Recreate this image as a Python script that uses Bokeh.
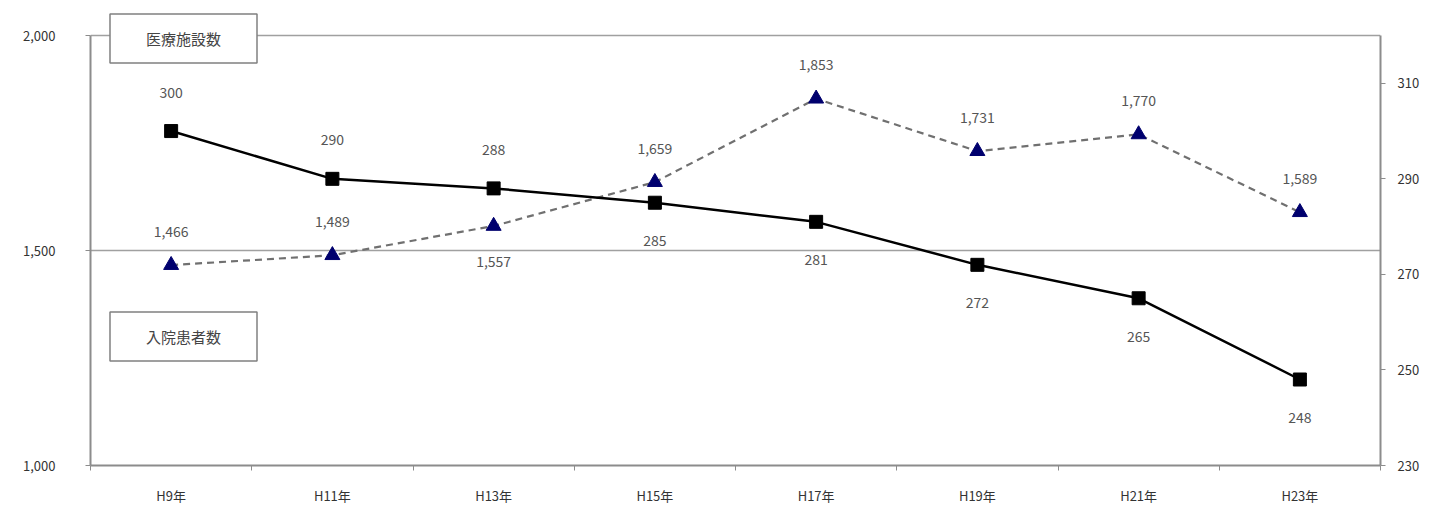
from bokeh.plotting import figure
from bokeh.models import Range1d, LinearAxis, FixedTicker, ColumnDataSource, Label
from bokeh.core.properties import value
from bokeh.embed import file_html
from bokeh.resources import INLINE

categories = ["H9年", "H11年", "H13年", "H15年", "H17年", "H19年", "H21年", "H23年"]
facilities = [300, 290, 288, 285, 281, 272, 265, 248]
patients = [1466, 1489, 1557, 1659, 1853, 1731, 1770, 1589]
facility_labels = ["300", "290", "288", "285", "281", "272", "265", "248"]
patient_labels = ["1,466", "1,489", "1,557", "1,659", "1,853", "1,731", "1,770", "1,589"]
left_ticks = [1000, 1500, 2000]
left_tick_labels = ["1,000", "1,500", "2,000"]
right_ticks = [230, 250, 270, 290, 310]
box_top_text = "医療施設数"
box_bottom_text = "入院患者数"

# label placement (above = True)
facility_above = [True, True, True, False, False, False, False, False]
patient_above = [True, True, False, True, True, True, True, True]

FONT = "Noto Sans CJK JP"
AXIS_COLOR = "#8c8c8c"

n = len(categories)
xs = [i + 0.5 for i in range(n)]

# axis extents: left 1000-2000, right 230-320 over 430 px; frame extended 25 px above
L_MIN, L_MAX = 1000, 2000
R_MIN, R_MAX = 230, 320
PLOT_H = 430
EXTRA = 25
l_top = L_MAX + EXTRA * (L_MAX - L_MIN) / PLOT_H
r_top = R_MAX + EXTRA * (R_MAX - R_MIN) / PLOT_H

p = figure(frame_width=1290, frame_height=PLOT_H + EXTRA, x_range=Range1d(0, n),
           y_range=Range1d(L_MIN, l_top),
           output_backend="svg", toolbar_location=None,
           min_border_left=90, min_border_right=10, min_border_top=10, min_border_bottom=10)
p.extra_y_ranges = {"right": Range1d(R_MIN, r_top)}
p.outline_line_color = None
p.background_fill_color = "white"
p.border_fill_color = "white"

# grid
p.xgrid.visible = False
p.ygrid.ticker = FixedTicker(ticks=[1500, 2000])
p.ygrid.grid_line_color = "#a0a0a0"
p.ygrid.grid_line_width = 1.5

# left axis
ya = p.yaxis[0]
ya.ticker = FixedTicker(ticks=left_ticks)
ya.bounds = (L_MIN, L_MAX)
ya.major_label_overrides = {t: l for t, l in zip(left_ticks, left_tick_labels)}
ya.minor_tick_line_color = None
ya.major_tick_in = 0
ya.major_tick_out = 5
ya.major_label_standoff = 30
ya.axis_line_color = AXIS_COLOR
ya.axis_line_width = 2
ya.major_tick_line_color = AXIS_COLOR

# right axis
ra = LinearAxis(y_range_name="right", ticker=FixedTicker(ticks=right_ticks), bounds=(R_MIN, R_MAX))
ra.minor_tick_line_color = None
ra.major_tick_in = 0
ra.major_tick_out = 5
ra.major_label_standoff = 12
ra.axis_line_color = AXIS_COLOR
ra.axis_line_width = 2
ra.major_tick_line_color = AXIS_COLOR
p.add_layout(ra, "right")

# x axis
xa = p.xaxis[0]
xa.ticker = FixedTicker(ticks=xs, minor_ticks=list(range(0, n + 1)))
xa.major_label_overrides = {x: c for x, c in zip(xs, categories)}
xa.major_tick_out = 0
xa.major_tick_in = 0
xa.minor_tick_out = 5
xa.minor_tick_in = 0
xa.minor_tick_line_color = AXIS_COLOR
xa.major_label_standoff = 15
xa.axis_line_color = AXIS_COLOR
xa.axis_line_width = 2

for ax in [ya, ra, xa]:
    ax.major_label_text_font = FONT
    ax.major_label_text_font_size = "13px"
    ax.major_label_text_color = "#333333"

# patients (left axis): dashed line with navy triangles
src_p = ColumnDataSource(dict(x=xs, y=patients, lab=patient_labels,
                              off=[-34 if a else 36 for a in patient_above]))
p.line("x", "y", source=src_p, line_color="#707070", line_width=2.2, line_dash="7 5")
p.scatter("x", "y", source=src_p, marker="triangle", size=15, fill_color="#00006e",
          line_color="#00006e")
p.text("x", "y", text="lab", source=src_p, y_offset="off", text_align="center",
       text_baseline="middle", text_font=value(FONT), text_font_size="14px",
       text_color="#555555")

# facilities (right axis): solid black line with squares
src_f = ColumnDataSource(dict(x=xs, y=facilities, lab=facility_labels,
                              off=[-39 if a else 38 for a in facility_above]))
p.line("x", "y", source=src_f, y_range_name="right", line_color="black", line_width=2.5)
p.scatter("x", "y", source=src_f, y_range_name="right", marker="square", size=13,
          fill_color="black", line_color="black")
p.text("x", "y", text="lab", source=src_f, y_range_name="right", y_offset="off",
       text_align="center", text_baseline="middle", text_font=value(FONT),
       text_font_size="14px", text_color="#555555")

# boxed legend texts (with a light shadow)
for txt, cx, cy in [(box_top_text, 183, 38), (box_bottom_text, 183, 336)]:
    p.add_layout(Label(x=cx + 3, y=cy + 4, x_units="canvas", y_units="canvas", text=txt,
                       text_align="center", text_baseline="middle", text_font=FONT,
                       text_font_size="15px", text_alpha=0,
                       background_fill_color="#c8c8c8", border_line_color=None,
                       padding=(36, 14)))
    p.add_layout(Label(x=cx, y=cy, x_units="canvas", y_units="canvas", text=txt,
                       text_align="center", text_baseline="middle", text_font=FONT,
                       text_font_size="15px", text_color="#444444",
                       background_fill_color="white", border_line_color="#808080",
                       border_line_width=1.5, padding=(36, 14)))

open("out.html", "w").write(file_html(p, INLINE))
